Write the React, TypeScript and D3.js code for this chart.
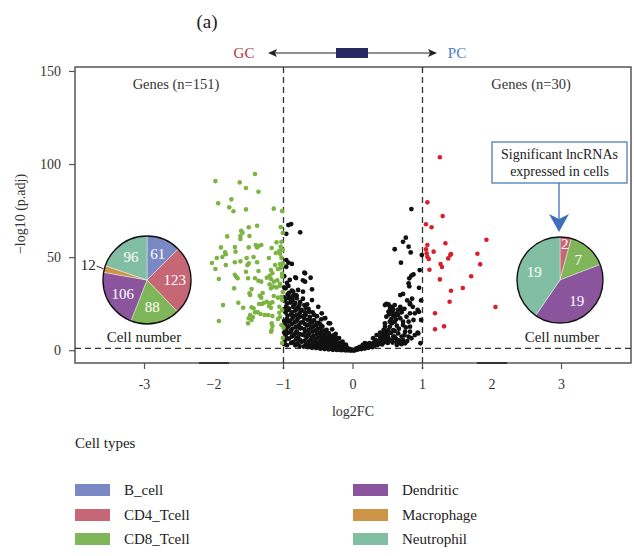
import React from 'react';
import * as d3 from 'd3';

const cellTypes = ['B_cell', 'CD4_Tcell', 'CD8_Tcell', 'Dendritic', 'Macrophage', 'Neutrophil'];
const cellColors = ['#7a89c3', '#c66775', '#7fb65a', '#8a559d', '#cd9447', '#82bea3'];
const gcCounts = [61, 123, 88, 106, 12, 96];
const pcCounts = [0, 2, 7, 19, 0, 19];
const xTicks = [-3, -2, -1, 0, 1, 2, 3];
const xTickLabels = ['-3', '\u22122', '\u22121', '0', '1', '2', '3'];
const yTicks = [0, 50, 100, 150];
const fcCut = 1;
const pCut = 1.3;

// [log2FC, -log10(p.adj)]
const gcGenes = [
  [-1.41, 94.9], [-1.98, 91.1], [-1.63, 90.4], [-1.54, 87.4], [-1.36, 85.4], [-1.75, 81.3],
  [-1.94, 79.2], [-1.78, 77.0], [-1.72, 74.9], [-1.54, 75.9], [-1.14, 76.3], [-1.02, 75.0],
  [-1.38, 67.1], [-1.5, 66.3], [-1.61, 64.4], [-1.59, 63.4], [-1.04, 66.4], [-1.81, 61.4],
  [-1.62, 61.6], [-1.49, 61.6], [-1.62, 60.0], [-1.1, 58.2], [-1.03, 58.5], [-1.4, 56.8],
  [-1.36, 56.2], [-1.32, 56.8], [-1.38, 55.5], [-1.9, 55.5], [-1.7, 55.7], [-1.5, 55.5],
  [-1.17, 55.2], [-1.84, 52.8], [-1.83, 51.8], [-1.69, 53.2], [-1.06, 53.7], [-1.05, 52.1],
  [-1.11, 52.5], [-1.96, 49.8], [-1.88, 50.3], [-1.53, 49.8], [-1.43, 50.3], [-1.21, 49.8],
  [-2.03, 47.1], [-1.98, 43.9], [-1.83, 46.0], [-1.7, 47.5], [-1.62, 48.0], [-1.52, 46.0],
  [-1.5, 46.9], [-1.38, 47.5], [-1.12, 46.0], [-1.05, 46.6], [-1.03, 45.1], [-1.18, 43.3],
  [-1.08, 43.9], [-1.54, 42.4], [-1.36, 42.8], [-1.93, 38.5], [-1.7, 40.8], [-1.68, 39.7],
  [-1.66, 38.9], [-1.51, 38.9], [-1.41, 38.9], [-1.36, 37.6], [-1.32, 37.1], [-1.24, 39.2],
  [-1.2, 40.3], [-1.16, 41.6], [-1.18, 38.5], [-1.14, 37.1], [-1.09, 37.8], [-1.05, 36.0],
  [-1.02, 41.4], [-1.02, 39.7], [-1.71, 33.5], [-1.46, 33.1], [-1.2, 35.7], [-1.15, 34.4],
  [-1.18, 33.5], [-1.1, 34.0], [-1.05, 34.9], [-1.48, 29.9], [-1.49, 30.8], [-1.34, 29.5],
  [-1.3, 31.0], [-1.32, 28.5], [-1.14, 29.4], [-1.08, 28.5], [-1.28, 25.8], [-1.24, 26.3],
  [-1.19, 25.5], [-1.16, 26.0], [-1.35, 25.1], [-1.31, 25.1], [-1.21, 24.0], [-1.18, 23.1],
  [-1.65, 25.8], [-1.58, 23.1], [-1.46, 23.3], [-1.43, 22.8], [-1.87, 24.5], [-1.41, 20.6],
  [-1.37, 20.6], [-1.33, 19.7], [-1.27, 19.2], [-1.22, 19.2], [-1.16, 18.6], [-1.05, 18.1],
  [-1.08, 17.0], [-1.48, 19.2], [-1.44, 18.1], [-1.5, 17.4], [-1.46, 16.5], [-1.51, 14.7],
  [-1.93, 16.0], [-1.16, 13.3], [-1.17, 11.1], [-1.18, 10.2], [-1.03, 13.8], [-1.0, 12.4],
  [-1.01, 46.9], [-1.01, 31.5], [-1.02, 27.2], [-1.02, 21.9], [-1.01, 6.8], [-1.02, 4.1],
  [-1.01, 63.2], [-1.01, 54.1], [-1.04, 55.9], [-1.03, 50.0], [-1.05, 44.3], [-1.03, 29.0],
  [-1.06, 23.6], [-1.06, 20.4], [-1.17, 14.7],
];

const pcGenes = [
  [1.25, 103.9], [1.07, 79.7], [1.29, 72.3], [1.05, 67.9], [1.13, 66.3], [1.92, 59.6],
  [1.33, 57.7], [1.07, 56.8], [1.05, 54.5], [1.06, 52.3], [1.07, 50.5], [1.09, 49.2],
  [1.16, 53.2], [1.41, 51.9], [1.4, 51.4], [1.37, 49.6], [1.79, 52.1], [1.26, 46.6],
  [1.28, 45.0], [1.83, 46.4], [1.1, 43.5], [1.25, 38.3], [1.7, 40.0], [1.58, 33.7],
  [1.41, 32.2], [1.39, 26.3], [2.05, 23.5], [1.18, 20.1], [1.31, 13.1], [1.18, 11.5],
];

const nsGenes = [
  [-0.93, 67.5], [-0.89, 68.0], [-0.96, 62.8], [-0.76, 63.6],
  [-0.96, 48.7], [-0.93, 47.3], [-0.88, 46.6], [-0.96, 45.1], [-0.7, 41.9], [-0.82, 39.0],
  [-0.91, 38.0], [-0.61, 39.2], [-0.72, 37.8], [-0.83, 39.4], [-0.69, 41.6], [-0.69, 37.1],
  [-0.86, 31.7], [-0.79, 32.6], [-0.72, 31.7], [-0.59, 33.0], [-0.59, 27.2], [-0.81, 29.5],
  [-0.5, 23.6], [-0.45, 20.1], [-0.4, 17.5], [-0.35, 14.8], [-0.3, 11.5], [-0.25, 9.0],
  [-0.2, 6.8], [-0.15, 4.9], [-0.1, 3.1], [-0.41, 17.4], [-0.33, 14.7], [-0.26, 8.4],
  [-0.98, 5.2], [-0.97, 8.1], [-0.96, 11.3], [-0.98, 14.6], [-0.95, 17.2], [-0.97, 20.5],
  [-0.96, 23.8], [-0.98, 27.1], [-0.94, 30.2], [-0.97, 33.5], [-0.95, 36.4],
  [-0.92, 6.5], [-0.9, 9.8], [-0.93, 13.1], [-0.91, 16.0], [-0.89, 19.4], [-0.92, 22.6],
  [-0.9, 25.9], [-0.91, 28.7], [-0.88, 32.3], [-0.93, 34.8],
  [-0.86, 4.6], [-0.85, 8.3], [-0.87, 11.9], [-0.84, 15.2], [-0.86, 18.4], [-0.83, 21.5],
  [-0.85, 24.6], [-0.87, 27.3], [-0.82, 29.8],
  [-0.8, 3.9], [-0.79, 7.2], [-0.81, 10.4], [-0.78, 13.6], [-0.8, 16.9], [-0.77, 20.1],
  [-0.79, 23.4], [-0.76, 26.2], [-0.81, 28.1],
  [-0.74, 4.8], [-0.73, 8.6], [-0.75, 12.2], [-0.72, 15.4], [-0.71, 18.7], [-0.74, 21.9],
  [-0.7, 24.5], [-0.72, 27.9],
  [-0.68, 3.4], [-0.67, 6.9], [-0.69, 10.1], [-0.66, 13.5], [-0.65, 16.6], [-0.68, 19.3],
  [-0.64, 22.4], [-0.66, 24.9],
  [-0.62, 2.8], [-0.61, 5.7], [-0.63, 9.2], [-0.6, 12.4], [-0.59, 15.3], [-0.62, 18.2], [-0.58, 20.6],
  [-0.56, 2.5], [-0.55, 5.1], [-0.57, 8.0], [-0.54, 10.9], [-0.53, 13.8], [-0.56, 16.4], [-0.52, 18.5],
  [-0.5, 2.1], [-0.49, 4.4], [-0.51, 7.1], [-0.48, 9.6], [-0.47, 12.3], [-0.5, 14.9], [-0.46, 16.8],
  [-0.44, 1.8], [-0.43, 3.9], [-0.45, 6.2], [-0.42, 8.5], [-0.41, 10.8], [-0.44, 13.0],
  [-0.38, 1.4], [-0.37, 3.2], [-0.39, 5.3], [-0.36, 7.4], [-0.35, 9.5], [-0.38, 11.2],
  [-0.32, 1.1], [-0.31, 2.7], [-0.33, 4.5], [-0.3, 6.3], [-0.29, 8.1],
  [-0.26, 0.8], [-0.25, 2.2], [-0.27, 3.8], [-0.24, 5.2], [-0.23, 6.6],
  [-0.2, 0.6], [-0.19, 1.8], [-0.21, 3.0], [-0.18, 4.3],
  [-0.14, 0.4], [-0.13, 1.3], [-0.15, 2.4], [-0.12, 3.3],
  [-0.08, 0.2], [-0.07, 0.9], [-0.09, 1.7], [-0.03, 0.1], [-0.02, 0.6], [0.01, 0.1],
  [-0.99, 3.5], [-0.99, 9.7], [-0.99, 16.0], [-0.99, 22.2], [-0.99, 28.6], [-0.99, 34.0], [-0.99, 40.0],
  [-0.95, 3.0], [-0.95, 6.6], [-0.94, 9.6], [-0.95, 12.8], [-0.93, 15.6], [-0.94, 18.9],
  [-0.93, 21.9], [-0.95, 25.4], [-0.93, 28.3], [-0.92, 31.0],
  [-0.89, 4.2], [-0.88, 7.6], [-0.89, 11.1], [-0.88, 14.4], [-0.87, 17.3], [-0.88, 20.6],
  [-0.86, 23.5], [-0.89, 26.9], [-0.86, 29.4],
  [-0.83, 2.9], [-0.82, 6.2], [-0.83, 9.4], [-0.82, 12.8], [-0.81, 15.9], [-0.82, 19.0],
  [-0.81, 22.3], [-0.83, 25.6],
  [-0.77, 2.5], [-0.76, 5.6], [-0.77, 8.9], [-0.76, 12.0], [-0.75, 15.1], [-0.76, 18.3],
  [-0.75, 21.4], [-0.77, 24.5],
  [-0.71, 2.2], [-0.7, 5.3], [-0.71, 8.4], [-0.7, 11.6], [-0.69, 14.3], [-0.7, 17.2],
  [-0.69, 20.6], [-0.68, 23.0],
  [-0.65, 1.9], [-0.64, 4.8], [-0.65, 8.0], [-0.64, 11.1], [-0.63, 14.1], [-0.62, 16.4], [-0.63, 20.9],
  [-0.59, 1.6], [-0.58, 4.2], [-0.59, 7.1], [-0.58, 10.3], [-0.57, 13.0], [-0.56, 19.2],
  [-0.53, 1.4], [-0.52, 3.8], [-0.53, 6.4], [-0.52, 9.1], [-0.51, 11.7], [-0.52, 14.6],
  [-0.47, 1.1], [-0.46, 3.1], [-0.47, 5.4], [-0.46, 7.9], [-0.45, 10.4], [-0.47, 14.2],
  [-0.41, 0.9], [-0.4, 2.8], [-0.41, 4.6], [-0.4, 6.9], [-0.39, 9.1],
  [-0.35, 0.7], [-0.34, 2.1], [-0.35, 3.9], [-0.34, 6.0], [-0.33, 8.0],
  [-0.29, 0.5], [-0.28, 1.7], [-0.29, 3.4], [-0.28, 5.0], [-0.27, 6.5],
  [-0.23, 0.4], [-0.22, 1.4], [-0.23, 2.7], [-0.22, 4.0],
  [-0.17, 0.3], [-0.16, 1.0], [-0.17, 2.0], [-0.16, 3.2],
  [-0.11, 0.2], [-0.1, 0.9], [-0.11, 1.8], [-0.05, 0.3], [-0.05, 1.0],
  [0.84, 76.1], [0.76, 60.7], [0.72, 58.5], [0.8, 55.9], [0.83, 52.8], [0.6, 54.5],
  [0.69, 47.3], [0.99, 51.4], [0.96, 43.3], [0.87, 41.0], [0.84, 40.3], [0.81, 38.9],
  [0.8, 36.2], [0.81, 34.6], [0.95, 33.8], [0.68, 29.9], [0.72, 30.5], [0.82, 24.9],
  [0.95, 20.9], [0.46, 24.5], [0.51, 24.9], [0.56, 23.6], [0.6, 24.5], [0.68, 22.8],
  [0.7, 20.6], [0.53, 21.9], [0.52, 19.5], [0.58, 18.8], [0.65, 19.2], [0.82, 20.1],
  [0.56, 14.7], [0.6, 15.6], [0.63, 13.4], [0.53, 12.9], [0.72, 13.8], [0.75, 10.2],
  [0.8, 7.5], [0.84, 6.7], [0.94, 9.3], [0.44, 9.3], [0.48, 10.6], [0.39, 7.5],
  [0.46, 5.7], [0.51, 6.7], [0.58, 7.5], [0.63, 4.8], [0.68, 4.0], [0.72, 5.7],
  [0.29, 6.7], [0.34, 4.8], [0.24, 4.0], [0.2, 3.1], [0.15, 2.1], [0.1, 1.3],
  [0.05, 0.9], [0.0, 0.4], [0.97, 4.0], [0.98, 27.0], [0.98, 16.5],
  [0.17, 4.0], [0.32, 5.7], [0.44, 7.5], [0.48, 8.4], [0.34, 3.6], [0.41, 4.3],
  [0.48, 5.4], [0.56, 5.7], [0.6, 7.5], [0.65, 9.3], [0.58, 11.1], [0.51, 11.1],
  [0.44, 9.7], [0.68, 4.8], [0.63, 3.1], [0.75, 4.0], [0.82, 10.2], [0.89, 8.4], [0.93, 9.7],
  [0.48, 25.1], [0.53, 23.6], [0.58, 22.2], [0.51, 20.9], [0.63, 20.1], [0.68, 23.6],
  [0.7, 21.9], [0.6, 18.3], [0.68, 17.4], [0.72, 15.6], [0.77, 18.3], [0.8, 15.6],
  [0.82, 12.9], [0.87, 16.5], [0.89, 20.1], [0.93, 21.9], [0.82, 25.5], [0.86, 23.6],
  [0.1, 2.1], [0.14, 3.1], [0.2, 3.6], [0.27, 2.1], [0.05, 1.3], [0.34, 8.4],
  [0.39, 9.7], [0.44, 11.1], [0.46, 12.9], [0.48, 18.3], [0.53, 15.6], [0.46, 14.7],
  [0.03, 0.3], [0.07, 0.6], [0.08, 1.6], [0.12, 0.9], [0.12, 1.9], [0.17, 1.2], [0.18, 2.6],
  [0.22, 1.6], [0.23, 2.8], [0.26, 3.5], [0.28, 1.9], [0.3, 4.2], [0.31, 2.6], [0.35, 3.0],
  [0.36, 5.4], [0.38, 3.8], [0.4, 5.9], [0.42, 3.4], [0.43, 6.8], [0.45, 4.6], [0.47, 7.2],
  [0.5, 4.2], [0.5, 8.6], [0.53, 5.4], [0.55, 9.6], [0.57, 4.4], [0.6, 10.6], [0.62, 6.4],
  [0.66, 5.6], [0.66, 11.8], [0.7, 7.6], [0.7, 3.5], [0.74, 8.3], [0.78, 5.2], [0.55, 17.0],
  [0.62, 16.8], [0.57, 20.5], [0.65, 22.0], [0.74, 22.5], [0.76, 12.5], [0.78, 27.0], [0.85, 27.9],
];

const serif = '"Liberation Serif", "DejaVu Serif", serif';

const x = d3.scaleLinear().domain([-4, 4]).range([75, 631]);
const y = d3.scaleLinear().domain([-6.6, 152.4]).range([363, 67]);

function Pie({ cx, cy, r, counts }: { cx: number; cy: number; r: number; counts: number[] }) {
  const arcs = d3.pie<number>().sort(null).value((d) => d)(counts);
  const arc = d3.arc<d3.PieArcDatum<number>>().innerRadius(0).outerRadius(r);
  return (
    <g transform={`translate(${cx},${cy})`}>
      {arcs.map((a, i) =>
        a.value > 0 ? (
          <path key={i} d={arc(a) || ''} fill={cellColors[i]} stroke="#fff" strokeWidth={0.4} />
        ) : null
      )}
      <circle r={r} fill="none" stroke="#111" strokeWidth={1.4} />
      {arcs.map((a, i) => {
        if (a.value === 0) return null;
        const span = a.endAngle - a.startAngle;
        const m = (a.startAngle + a.endAngle) / 2;
        if (span < 0.2) {
          const sx = Math.sin(m), sy = -Math.cos(m);
          return (
            <g key={'l' + i}>
              <line x1={(r + 8) * sx} y1={(r + 8) * sy - 1} x2={(r + 1) * sx} y2={(r + 1) * sy}
                stroke="#222" strokeWidth={1} />
              <text x={(r + 9) * sx} y={(r + 9) * sy - 2} textAnchor="end" dominantBaseline="central"
                fontSize={15} fill="#222">{a.value}</text>
            </g>
          );
        }
        const k = span < 0.45 ? 0.84 : 0.63;
        return (
          <text key={'l' + i} x={k * r * Math.sin(m)} y={-k * r * Math.cos(m)} textAnchor="middle"
            dominantBaseline="central" fontSize={15} fill="#fff">{a.value}</text>
        );
      })}
    </g>
  );
}

export default function App() {
  const dash = '6,4';
  return (
    <svg width={634} height={556}
      style={{ position: 'absolute', left: 0, top: 0, background: '#fff', fontFamily: serif }}>
      <text x={207} y={21} textAnchor="middle" dominantBaseline="central" fontSize={19} fill="#222">(a)</text>

      {/* GC / PC direction */}
      <text x={244} y={53} textAnchor="middle" dominantBaseline="central" fontSize={15} fill="#b83344">GC</text>
      <text x={457} y={53} textAnchor="middle" dominantBaseline="central" fontSize={15} fill="#4b7cc4">PC</text>
      <line x1={272} y1={53} x2={433} y2={53} stroke="#222" strokeWidth={1.2} />
      <path d="M268,53 L277,49 L275,53 L277,57 Z" fill="#222" />
      <path d="M437,53 L428,49 L430,53 L428,57 Z" fill="#222" />
      <rect x={336} y={48} width={32} height={10} fill="#262a5e" />

      {/* frame */}
      <rect x={75} y={67} width={556} height={296} fill="none" stroke="#555" strokeWidth={1.5} />

      {/* y axis */}
      {yTicks.map((t) => (
        <g key={t}>
          <line x1={69} x2={75} y1={y(t)} y2={y(t)} stroke="#555" strokeWidth={1.2} />
          <text x={61} y={y(t)} textAnchor="end" dominantBaseline="central" fontSize={14} fill="#333">{t}</text>
        </g>
      ))}
      <text transform={`translate(20,214) rotate(-90)`} textAnchor="middle" dominantBaseline="central"
        fontSize={14} fill="#333">{'\u2212log10 (p.adj)'}</text>

      {/* x axis */}
      {xTicks.map((t) =>
        Math.abs(t) === 2 ? (
          <line key={t} x1={x(t) - 15} x2={x(t) + 15} y1={363} y2={363} stroke="#333" strokeWidth={2} />
        ) : (
          <line key={t} x1={x(t)} x2={x(t)} y1={363} y2={369} stroke="#555" strokeWidth={1.2} />
        )
      )}
      {xTicks.map((t, i) => (
        <text key={'t' + t} x={x(t)} y={384} textAnchor="middle" dominantBaseline="central" fontSize={14}
          fill="#333">{xTickLabels[i]}</text>
      ))}
      <text x={353} y={411} textAnchor="middle" dominantBaseline="central" fontSize={14} fill="#333">log2FC</text>

      {/* thresholds */}
      <line x1={x(-fcCut)} x2={x(-fcCut)} y1={67} y2={369} stroke="#333" strokeWidth={1.3} strokeDasharray={dash} />
      <line x1={x(fcCut)} x2={x(fcCut)} y1={67} y2={369} stroke="#333" strokeWidth={1.3} strokeDasharray={dash} />
      <line x1={75} x2={631} y1={y(pCut)} y2={y(pCut)} stroke="#333" strokeWidth={1.3} strokeDasharray={dash} />

      {/* points */}
      {nsGenes.map((d, i) => (
        <circle key={'n' + i} cx={x(d[0])} cy={y(d[1])} r={2.4} fill="#111" />
      ))}
      {gcGenes.map((d, i) => (
        <circle key={'g' + i} cx={x(d[0])} cy={y(d[1])} r={2.3} fill="#7cb342" />
      ))}
      {pcGenes.map((d, i) => (
        <circle key={'p' + i} cx={x(d[0])} cy={y(d[1])} r={2.3} fill="#d7202a" />
      ))}

      <text x={176} y={84} textAnchor="middle" dominantBaseline="central" fontSize={14.5} fill="#333">Genes (n=151)</text>
      <text x={531} y={84} textAnchor="middle" dominantBaseline="central" fontSize={14.5} fill="#333">Genes (n=30)</text>

      <Pie cx={147} cy={280} r={44} counts={gcCounts} />
      <Pie cx={560} cy={280} r={43} counts={pcCounts} />
      <text x={144} y={337} textAnchor="middle" dominantBaseline="central" fontSize={15} fill="#222">Cell number</text>
      <text x={562} y={337} textAnchor="middle" dominantBaseline="central" fontSize={15} fill="#222">Cell number</text>

      {/* callout */}
      <rect x={492} y={142} width={135} height={41} fill="#fff" stroke="#4b7cc4" strokeWidth={1.3} />
      <text x={559.5} y={154} textAnchor="middle" dominantBaseline="central" fontSize={14} fill="#222">Significant lncRNAs</text>
      <text x={559.5} y={171} textAnchor="middle" dominantBaseline="central" fontSize={14} fill="#222">expressed in cells</text>
      <line x1={559} x2={559} y1={183} y2={220} stroke="#3d6fbd" strokeWidth={1.3} />
      <path d="M549,214 L559,219 L569,214 L559,232 Z" fill="#3d6fbd" />

      {/* legend */}
      <text x={75} y={443} dominantBaseline="central" fontSize={15} fill="#222">Cell types</text>
      {cellTypes.map((c, i) => {
        const col = Math.floor(i / 3);
        const row = i % 3;
        const rx = col === 0 ? 75 : 353;
        const ry = [484, 509, 533][row];
        return (
          <g key={c}>
            <rect x={rx} y={ry} width={35} height={12} fill={cellColors[i]} />
            <text x={rx + 49} y={ry + 6} dominantBaseline="central" fontSize={15} fill="#222">{c}</text>
          </g>
        );
      })}
    </svg>
  );
}
